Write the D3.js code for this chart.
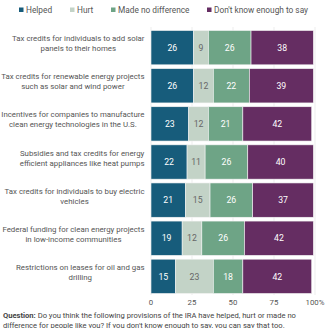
<!DOCTYPE html>
<html>
<head>
<meta charset="utf-8">
<script src="https://cdn.jsdelivr.net/npm/d3@7"></script>
<style>
  body { margin: 0; background: #fff; }
  text { font-family: Roboto, "Noto Sans", sans-serif; }
</style>
</head>
<body>
<script>
// provisions of the IRA, top to bottom
const provisions = [
  ["Tax credits for individuals to add solar", "panels to their homes"],
  ["Tax credits for renewable energy projects", "such as solar and wind power"],
  ["Incentives for companies to manufacture", "clean energy technologies in the U.S."],
  ["Subsidies and tax credits for energy", "efficient appliances like heat pumps"],
  ["Tax credits for individuals to buy electric", "vehicles"],
  ["Federal funding for clean energy projects", "in low-income communities"],
  ["Restrictions on leases for oil and gas", "drilling"]
];
const responses = ["Helped", "Hurt", "Made no difference", "Don't know enough to say"];
const helped     = [26, 26, 23, 22, 21, 19, 15];
const hurt       = [9, 12, 12, 11, 15, 12, 23];
const noDiff     = [26, 22, 21, 26, 26, 26, 18];
const dontKnow   = [38, 39, 42, 40, 37, 42, 42];
const xTicks = [0, 25, 50, 75, 100];

const colors = ["#175c7b", "#c3d3c7", "#6ea486", "#652d62"];
const textColors = ["#fff", "#666", "#fff", "#fff"];

const W = 328, H = 328;
const svg = d3.select("body").append("svg")
  .attr("width", W)
  .attr("height", H);

const rows = provisions.map((p, i) => ({
  idx: i,
  label: p,
  Helped: helped[i],
  Hurt: hurt[i],
  "Made no difference": noDiff[i],
  "Don't know enough to say": dontKnow[i]
}));

const x = d3.scaleLinear().domain([0, 100]).range([151, 315]);
const y = d3.scaleBand().domain(d3.range(provisions.length))
  .range([29, 295]).paddingInner(0.1).paddingOuter(0.04);

// gridlines
svg.append("g").selectAll("line")
  .data(xTicks)
  .join("line")
  .attr("x1", d => x(d)).attr("x2", d => x(d))
  .attr("y1", 27).attr("y2", 295)
  .attr("stroke", "#e8e8e8")
  .attr("stroke-width", 0.8);

// legend
const legendX = [19, 70, 111, 207];
const legend = svg.append("g");
responses.forEach((r, i) => {
  legend.append("rect")
    .attr("x", legendX[i]).attr("y", 7.5)
    .attr("width", 4.5).attr("height", 4.5)
    .attr("fill", colors[i]);
  legend.append("text")
    .attr("x", legendX[i] + 7).attr("y", 12.5)
    .attr("font-size", 8.3)
    .attr("fill", "#555")
    .text(r);
});

// stacked bars
const stack = d3.stack().keys(responses)(rows);
const layers = svg.append("g").selectAll("g")
  .data(stack)
  .join("g")
  .attr("fill", (d, i) => colors[i]);

layers.selectAll("rect")
  .data(d => d)
  .join("rect")
  .attr("x", d => x(d[0]))
  .attr("y", d => y(d.data.idx))
  .attr("width", d => x(d[1]) - x(d[0]))
  .attr("height", y.bandwidth())
  .attr("stroke", "#f4f4f4")
  .attr("stroke-width", 0.6);

// value labels
stack.forEach((layer, k) => {
  svg.append("g").selectAll("text")
    .data(layer)
    .join("text")
    .attr("x", d => (x(d[0]) + x(d[1])) / 2)
    .attr("y", d => y(d.data.idx) + y.bandwidth() / 2 + 3.2)
    .attr("text-anchor", "middle")
    .attr("font-size", 8.7)
    .attr("fill", textColors[k])
    .text(d => d[1] - d[0]);
});

// category labels: lines centred on each other, block right-aligned
const labelRight = 144.5;
rows.forEach(r => {
  const g = svg.append("g");
  const cy = y(r.idx) + y.bandwidth() / 2;
  const lines = g.selectAll("text")
    .data(r.label)
    .join("text")
    .attr("y", (d, j) => cy - 1.5 + (j - (r.label.length - 1) / 2) * 10)
    .attr("font-size", 7.85)
    .attr("fill", "#555")
    .attr("text-anchor", "middle")
    .text(d => d);
  let maxW = 0;
  lines.each(function() { maxW = Math.max(maxW, this.getComputedTextLength()); });
  lines.attr("x", labelRight - maxW / 2);
});

// x axis labels
svg.append("g").selectAll("text")
  .data(xTicks)
  .join("text")
  .attr("x", d => x(d))
  .attr("y", 305)
  .attr("text-anchor", "middle")
  .attr("font-size", 7.8)
  .attr("fill", "#555")
  .text(d => d === 100 ? "100%" : d);

// question note
const note = svg.append("text")
  .attr("x", 3).attr("y", 318)
  .attr("font-size", 7.6)
  .attr("fill", "#444");
note.append("tspan").attr("font-weight", "bold").text("Question:");
note.append("tspan").text(" Do you think the following provisions of the IRA have helped, hurt or made no");
svg.append("text")
  .attr("x", 3).attr("y", 327.5)
  .attr("font-size", 7.6)
  .attr("fill", "#444")
  .text("difference for people like you? If you don't know enough to say, you can say that too.");
</script>
</body>
</html>
